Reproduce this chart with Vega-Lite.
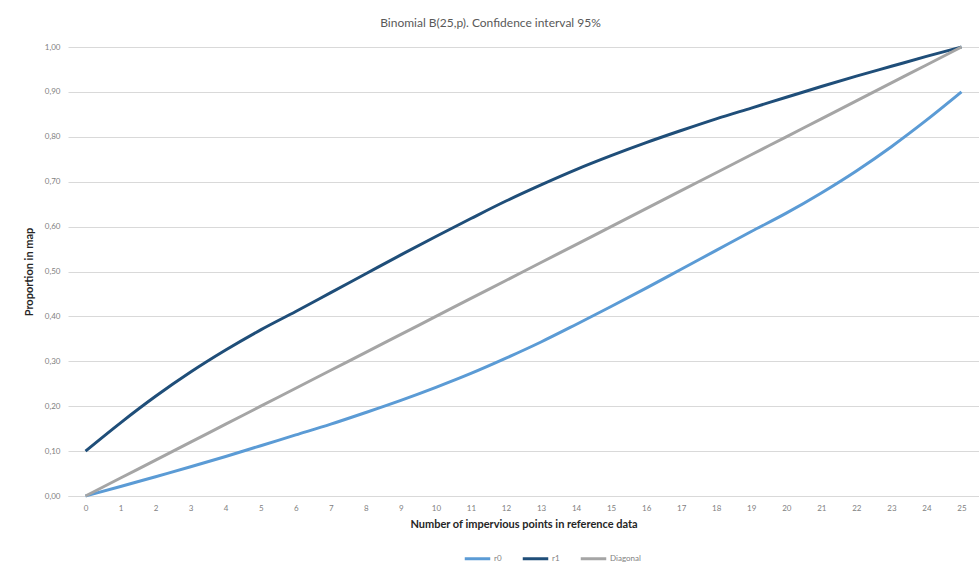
{
  "$schema": "https://vega.github.io/schema/vega-lite/v6.json",
  "width": 911,
  "height": 449,
  "autosize": {"type": "none"},
  "padding": {"left": 68, "top": 47, "right": 0, "bottom": 71},
  "background": "white",
  "title": {
    "text": "Binomial B(25,p). Confidence interval 95%",
    "anchor": "middle",
    "dx": -33,
    "offset": 11,
    "font": "Lato",
    "fontSize": 12,
    "fontWeight": "normal",
    "color": "#595959"
  },
  "data": {
    "values": [
      {"k": 0, "r0": 0.000, "r1": 0.100, "Diagonal": 0.00},
      {"k": 1, "r0": 0.021, "r1": 0.163, "Diagonal": 0.04},
      {"k": 2, "r0": 0.043, "r1": 0.222, "Diagonal": 0.08},
      {"k": 3, "r0": 0.065, "r1": 0.276, "Diagonal": 0.12},
      {"k": 4, "r0": 0.088, "r1": 0.325, "Diagonal": 0.16},
      {"k": 5, "r0": 0.112, "r1": 0.370, "Diagonal": 0.20},
      {"k": 6, "r0": 0.136, "r1": 0.411, "Diagonal": 0.24},
      {"k": 7, "r0": 0.160, "r1": 0.453, "Diagonal": 0.28},
      {"k": 8, "r0": 0.186, "r1": 0.495, "Diagonal": 0.32},
      {"k": 9, "r0": 0.213, "r1": 0.537, "Diagonal": 0.36},
      {"k": 10, "r0": 0.242, "r1": 0.578, "Diagonal": 0.40},
      {"k": 11, "r0": 0.273, "r1": 0.618, "Diagonal": 0.44},
      {"k": 12, "r0": 0.307, "r1": 0.657, "Diagonal": 0.48},
      {"k": 13, "r0": 0.343, "r1": 0.693, "Diagonal": 0.52},
      {"k": 14, "r0": 0.382, "r1": 0.727, "Diagonal": 0.56},
      {"k": 15, "r0": 0.422, "r1": 0.758, "Diagonal": 0.60},
      {"k": 16, "r0": 0.463, "r1": 0.787, "Diagonal": 0.64},
      {"k": 17, "r0": 0.505, "r1": 0.814, "Diagonal": 0.68},
      {"k": 18, "r0": 0.547, "r1": 0.840, "Diagonal": 0.72},
      {"k": 19, "r0": 0.589, "r1": 0.864, "Diagonal": 0.76},
      {"k": 20, "r0": 0.630, "r1": 0.888, "Diagonal": 0.80},
      {"k": 21, "r0": 0.675, "r1": 0.912, "Diagonal": 0.84},
      {"k": 22, "r0": 0.724, "r1": 0.935, "Diagonal": 0.88},
      {"k": 23, "r0": 0.778, "r1": 0.957, "Diagonal": 0.92},
      {"k": 24, "r0": 0.837, "r1": 0.979, "Diagonal": 0.96},
      {"k": 25, "r0": 0.900, "r1": 1.000, "Diagonal": 1.00}
    ]
  },
  "transform": [
    {"fold": ["r0", "r1", "Diagonal"], "as": ["series", "value"]}
  ],
  "mark": {"type": "line", "interpolate": "monotone"},
  "encoding": {
    "x": {
      "field": "k",
      "type": "ordinal",
      "sort": "ascending",
      "scale": {"type": "point", "padding": 0.5},
      "axis": {
        "title": "Number of impervious points in reference data",
        "titleFont": "Lato",
        "titleFontSize": 11,
        "titleFontWeight": "bold",
        "titleColor": "#262626",
        "titlePadding": 6,
        "labelAngle": 0,
        "labelFont": "Lato",
        "labelFontSize": 8,
        "labelColor": "#7f7f7f",
        "labelPadding": 8,
        "ticks": false,
        "domainColor": "#d9d9d9",
        "domainWidth": 1,
        "grid": false
      }
    },
    "y": {
      "field": "value",
      "type": "quantitative",
      "scale": {"domain": [0, 1], "nice": false, "zero": true},
      "axis": {
        "title": "Proportion in map",
        "titleFont": "Lato",
        "titleFontSize": 11,
        "titleFontWeight": "bold",
        "titleColor": "#262626",
        "titlePadding": 10,
        "values": [0, 0.1, 0.2, 0.3, 0.4, 0.5, 0.6, 0.7, 0.8, 0.9, 1.0],
        "labelExpr": "replace(format(datum.value, '.2f'), '.', ',')",
        "labelFont": "Lato",
        "labelFontSize": 8,
        "labelColor": "#7f7f7f",
        "labelPadding": 8,
        "ticks": false,
        "domain": false,
        "grid": true,
        "gridColor": "#d9d9d9",
        "gridWidth": 1
      }
    },
    "color": {
      "field": "series",
      "type": "nominal",
      "scale": {
        "domain": ["r0", "r1", "Diagonal"],
        "range": ["#5b9bd5", "#1f4e79", "#a5a5a5"]
      },
      "legend": {
        "title": null,
        "orient": "none",
        "direction": "horizontal",
        "legendX": 395,
        "legendY": 497,
        "symbolType": "stroke",
        "symbolSize": 650,
        "symbolStrokeWidth": 3,
        "labelFont": "Lato",
        "labelFontSize": 8,
        "labelColor": "#7f7f7f",
        "labelOffset": 2,
        "columnPadding": 14
      }
    },
    "strokeWidth": {
      "field": "series",
      "type": "nominal",
      "scale": {"domain": ["r0", "r1", "Diagonal"], "range": [3, 3, 2]},
      "legend": null
    },
    "order": {"field": "k", "type": "quantitative"}
  },
  "config": {
    "view": {"stroke": null}
  }
}
